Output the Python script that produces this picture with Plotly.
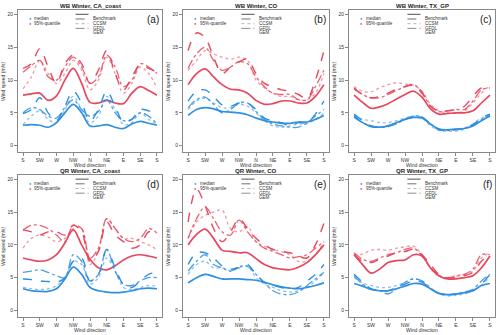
import plotly.graph_objects as go
from plotly.subplots import make_subplots

# wind direction sectors (every 22.5 deg, S -> S)
x_pos = [i * 0.5 for i in range(17)]
tick_pos = list(range(9))
tick_text = ['S', 'SW', 'W', 'NW', 'N', 'NE', 'E', 'SE', 'S']
models = ['Benchmark', 'CCSM', 'GFDL', 'GEM']

# (a) WB Winter, CA_coast
a_q95 = {
    'Benchmark': [7.7, 7.9, 8.0, 6.9, 7.6, 10.0, 11.8, 9.5, 6.6, 6.5, 6.9, 6.5, 6.4, 8.0, 9.0, 8.4, 7.7],
    'CCSM': [11.8, 12.5, 14.8, 12.0, 9.5, 12.5, 13.8, 12.5, 9.5, 11.5, 14.5, 11.0, 8.5, 10.5, 12.3, 11.8, 11.2],
    'GFDL': [8.7, 10.5, 13.0, 11.0, 9.5, 11.0, 13.0, 11.5, 8.5, 10.0, 13.5, 11.0, 8.0, 9.5, 12.0, 11.0, 8.8],
    'GEM': [11.2, 12.2, 13.0, 10.5, 10.0, 12.0, 13.5, 12.0, 9.5, 10.5, 13.8, 12.0, 9.0, 10.0, 12.5, 12.0, 11.0],
}
a_med = {
    'Benchmark': [3.1, 3.2, 3.1, 2.8, 3.5, 5.0, 6.3, 5.0, 3.0, 3.0, 3.2, 2.8, 2.6, 3.3, 3.7, 3.4, 3.1],
    'CCSM': [4.9, 5.5, 7.3, 5.0, 3.8, 6.0, 8.3, 6.5, 3.8, 5.5, 8.3, 6.0, 3.6, 4.0, 5.5, 5.3, 4.8],
    'GFDL': [3.2, 4.5, 5.3, 4.0, 3.5, 5.5, 7.5, 5.5, 3.5, 4.5, 7.5, 5.5, 3.2, 3.5, 5.0, 4.0, 3.2],
    'GEM': [5.0, 5.8, 5.5, 4.5, 4.2, 5.8, 7.0, 5.5, 4.5, 5.2, 7.0, 5.0, 3.8, 4.0, 5.0, 4.5, 3.3],
}
# (b) WB Winter, CO
b_q95 = {
    'Benchmark': [9.3, 11.0, 11.7, 10.5, 9.3, 8.6, 8.5, 8.0, 6.9, 6.3, 6.4, 6.8, 6.8, 6.5, 6.5, 7.5, 9.3],
    'CCSM': [14.5, 17.2, 16.5, 13.5, 11.0, 12.0, 12.8, 13.2, 11.0, 9.5, 9.0, 8.5, 8.3, 7.8, 7.2, 10.0, 14.5],
    'GFDL': [11.5, 13.0, 14.5, 14.0, 13.5, 13.2, 13.5, 13.0, 10.0, 8.8, 8.0, 7.5, 7.5, 7.0, 7.0, 8.0, 11.0],
    'GEM': [11.8, 14.0, 15.0, 13.0, 11.5, 12.0, 12.8, 12.5, 10.5, 9.0, 8.0, 7.8, 7.8, 7.0, 7.0, 9.0, 11.5],
}
b_med = {
    'Benchmark': [4.6, 5.5, 5.8, 5.6, 5.2, 5.1, 5.0, 4.7, 4.2, 3.8, 3.6, 3.4, 3.4, 3.6, 3.6, 4.0, 4.6],
    'CCSM': [6.8, 8.3, 8.5, 7.5, 6.2, 6.0, 6.5, 6.5, 5.5, 4.2, 3.8, 3.5, 3.0, 3.5, 3.5, 4.8, 6.8],
    'GFDL': [5.5, 6.8, 7.2, 6.5, 5.8, 5.8, 6.3, 6.0, 5.0, 3.8, 3.0, 2.8, 3.0, 3.3, 3.3, 4.0, 5.0],
    'GEM': [5.8, 7.0, 7.4, 6.3, 5.0, 5.5, 6.5, 6.5, 5.2, 4.0, 3.3, 3.0, 2.8, 2.8, 3.5, 4.5, 5.5],
}
# (c) WB Winter, TX_GP
c_q95 = {
    'Benchmark': [7.7, 6.6, 5.7, 5.9, 6.4, 7.1, 7.8, 8.3, 7.4, 5.6, 4.8, 4.9, 5.0, 5.0, 5.3, 6.5, 7.7],
    'CCSM': [8.8, 7.8, 7.3, 7.5, 8.0, 8.6, 9.0, 9.2, 8.0, 6.0, 5.3, 5.3, 5.5, 6.0, 7.5, 8.8, 9.0],
    'GFDL': [9.0, 8.3, 8.2, 8.8, 9.3, 9.6, 9.4, 9.2, 8.3, 6.3, 5.3, 5.0, 5.0, 5.3, 6.5, 8.0, 9.2],
    'GEM': [8.6, 7.8, 7.3, 7.3, 7.8, 8.4, 9.0, 9.3, 8.2, 6.0, 5.2, 5.3, 5.5, 5.5, 6.8, 8.5, 8.8],
}
c_med = {
    'Benchmark': [4.5, 3.5, 2.9, 2.8, 3.0, 3.5, 4.0, 4.3, 4.2, 3.3, 2.5, 2.4, 2.5, 2.6, 3.0, 3.8, 4.5],
    'CCSM': [4.8, 3.8, 3.0, 2.8, 3.0, 3.5, 4.0, 4.3, 4.3, 3.2, 2.5, 2.3, 2.4, 2.6, 3.2, 4.2, 4.8],
    'GFDL': [4.6, 4.0, 3.8, 3.5, 3.5, 3.8, 4.2, 4.5, 4.3, 3.0, 2.3, 2.2, 2.2, 2.5, 3.3, 4.2, 4.7],
    'GEM': [4.3, 3.5, 3.0, 2.8, 2.9, 3.3, 4.0, 4.5, 4.4, 3.3, 2.4, 2.3, 2.5, 2.7, 3.2, 4.0, 4.6],
}
# (d) QR Winter, CA_coast
d_q95 = {
    'Benchmark': [8.0, 7.7, 7.5, 7.7, 8.5, 10.3, 12.3, 10.0, 7.8, 6.5, 6.2, 6.8, 7.7, 8.3, 8.5, 8.3, 8.0],
    'CCSM': [12.3, 12.0, 11.5, 12.0, 12.0, 11.5, 13.0, 12.0, 7.5, 9.0, 13.5, 11.5, 10.5, 9.5, 10.0, 12.0, 12.0],
    'GFDL': [9.5, 11.0, 11.5, 11.2, 10.5, 11.0, 12.5, 12.5, 7.0, 9.0, 14.0, 12.5, 11.0, 11.0, 10.5, 10.0, 9.3],
    'GEM': [12.3, 13.0, 13.0, 12.5, 11.5, 10.5, 13.0, 12.5, 8.0, 9.5, 14.0, 12.5, 11.0, 10.5, 11.0, 12.5, 11.8],
}
d_med = {
    'Benchmark': [3.3, 3.0, 2.9, 2.9, 3.3, 4.8, 6.6, 5.5, 3.5, 3.0, 2.8, 2.7, 2.8, 3.0, 3.3, 3.4, 3.3],
    'CCSM': [4.8, 4.7, 4.5, 4.4, 4.3, 5.0, 7.5, 8.0, 4.5, 5.5, 9.3, 6.5, 4.0, 3.5, 4.5, 5.5, 5.8],
    'GFDL': [3.5, 3.3, 3.2, 3.3, 3.8, 5.0, 7.5, 7.0, 4.0, 5.0, 8.0, 6.0, 3.5, 3.2, 3.5, 3.8, 3.7],
    'GEM': [5.8, 6.0, 6.2, 5.8, 5.3, 5.0, 8.5, 7.5, 4.5, 5.5, 9.3, 6.0, 4.0, 3.8, 4.5, 5.0, 5.0],
}
# (e) QR Winter, CO
e_q95 = {
    'Benchmark': [10.0, 11.6, 12.4, 11.0, 9.2, 9.0, 8.8, 8.8, 7.9, 7.0, 6.5, 6.3, 6.2, 6.6, 7.3, 8.5, 10.0],
    'CCSM': [13.5, 18.5, 16.0, 12.5, 10.5, 12.0, 14.0, 12.5, 11.0, 10.0, 9.3, 9.0, 8.8, 8.3, 8.0, 10.0, 13.3],
    'GFDL': [11.0, 13.5, 14.5, 15.0, 15.3, 12.5, 12.0, 12.8, 10.5, 9.8, 9.3, 9.0, 8.5, 7.5, 7.5, 8.5, 10.5],
    'GEM': [11.0, 14.0, 15.8, 14.0, 12.0, 11.5, 13.8, 12.0, 10.5, 9.5, 9.0, 8.5, 8.0, 8.2, 8.5, 9.5, 10.5],
}
e_med = {
    'Benchmark': [4.2, 5.0, 5.5, 5.2, 4.8, 4.8, 4.8, 4.7, 4.6, 4.3, 3.9, 3.6, 3.4, 3.3, 3.5, 3.8, 4.2],
    'CCSM': [7.0, 8.8, 8.8, 8.0, 6.8, 6.3, 6.5, 7.0, 5.5, 4.3, 3.8, 3.5, 3.3, 3.5, 4.5, 5.5, 7.0],
    'GFDL': [5.5, 7.0, 7.5, 6.5, 6.5, 6.0, 6.5, 6.8, 5.0, 4.0, 3.5, 3.0, 2.8, 3.0, 3.5, 4.5, 5.8],
    'GEM': [6.0, 7.5, 8.5, 7.0, 6.5, 6.0, 6.7, 6.7, 5.5, 4.2, 3.0, 2.5, 2.4, 2.8, 3.8, 4.8, 5.8],
}
# (f) QR Winter, TX_GP
f_q95 = {
    'Benchmark': [8.5, 7.0, 5.7, 6.3, 7.3, 7.6, 7.7, 8.5, 8.3, 6.5, 5.3, 4.8, 4.8, 5.0, 5.3, 6.5, 8.3],
    'CCSM': [8.5, 7.5, 7.3, 7.8, 8.3, 8.8, 9.0, 9.3, 8.5, 7.0, 5.5, 5.0, 5.0, 5.3, 5.8, 7.5, 8.5],
    'GFDL': [8.5, 8.6, 9.2, 9.3, 9.2, 9.5, 9.7, 9.8, 8.5, 6.5, 5.2, 5.0, 5.3, 5.5, 6.0, 8.0, 8.8],
    'GEM': [8.8, 7.8, 7.5, 8.0, 8.5, 8.8, 9.3, 9.5, 8.3, 6.5, 5.3, 5.0, 5.2, 5.5, 6.3, 8.5, 8.5],
}
f_med = {
    'Benchmark': [4.1, 3.7, 3.2, 3.0, 3.0, 3.3, 3.7, 4.1, 4.0, 3.3, 2.6, 2.4, 2.5, 2.7, 3.0, 3.8, 4.1],
    'CCSM': [5.5, 4.3, 3.3, 3.0, 3.0, 3.5, 4.0, 4.5, 4.3, 3.3, 2.6, 2.4, 2.5, 2.7, 3.0, 4.0, 5.5],
    'GFDL': [5.0, 4.2, 3.8, 3.5, 3.5, 3.8, 4.3, 4.8, 4.5, 3.5, 2.5, 2.2, 2.3, 2.5, 3.0, 3.8, 5.2],
    'GEM': [5.3, 4.0, 3.3, 3.0, 2.5, 3.3, 4.3, 4.8, 4.5, 3.3, 2.6, 2.4, 2.5, 2.8, 3.2, 4.5, 5.5],
}

panels = [
    ('WB Winter, CA_coast', '(a)', a_med, a_q95),
    ('WB Winter, CO', '(b)', b_med, b_q95),
    ('WB Winter, TX_GP', '(c)', c_med, c_q95),
    ('QR Winter, CA_coast', '(d)', d_med, d_q95),
    ('QR Winter, CO', '(e)', e_med, e_q95),
    ('QR Winter, TX_GP', '(f)', f_med, f_q95),
]

BLUE = '#2F8FE0'
RED = '#E8475E'
styles = {
    'Benchmark': dict(dash='solid', width=1.7, opacity=1.0),
    'CCSM': dict(dash='dash', width=1.4, opacity=1.0),
    'GFDL': dict(dash='dot', width=1.3, opacity=0.55),
    'GEM': dict(dash='dashdot', width=1.3, opacity=0.85),
}

fig = make_subplots(rows=2, cols=3)

x_domains = [[0.036, 0.324], [0.366, 0.658], [0.698, 0.990]]
y_domains = [[0.546, 0.970], [0.054, 0.478]]
FONT = 'Liberation Sans, Arial, sans-serif'

for i, (title, tag, med, q95) in enumerate(panels):
    r, c = i // 3 + 1, i % 3 + 1
    for data, color in [(q95, RED), (med, BLUE)]:
        for m in models:
            st = styles[m]
            fig.add_trace(go.Scatter(
                x=x_pos, y=data[m], mode='lines',
                line=dict(color=color, width=st['width'], dash=st['dash'], shape='spline', smoothing=1.0),
                opacity=st['opacity'], showlegend=False, hoverinfo='skip'
            ), row=r, col=c)

    n = '' if i == 0 else str(i + 1)
    xa, ya = 'x' + n, 'y' + n
    fig.update_xaxes(domain=x_domains[c - 1], range=[-0.3, 8.3], tickvals=tick_pos, ticktext=tick_text,
                     row=r, col=c)
    fig.update_yaxes(domain=y_domains[r - 1], range=[-1.0, 20.7], tickvals=[0, 5, 10, 15, 20],
                     row=r, col=c)

    # titles and axis labels
    fig.add_annotation(text='<b>' + title + '</b>', xref=xa + ' domain', yref=ya + ' domain',
                       x=0.5, y=1.0, yanchor='bottom', showarrow=False, yshift=-1,
                       font=dict(size=6, color='#222'))
    fig.add_annotation(text='Wind direction', xref=xa + ' domain', yref=ya + ' domain',
                       x=0.5, y=0, yanchor='top', showarrow=False, yshift=-8,
                       font=dict(size=5, color='#333'))
    fig.add_annotation(text='Wind speed (m/s)', xref=xa + ' domain', yref=ya + ' domain',
                       x=0, y=0.5, textangle=-90, xanchor='right', showarrow=False, xshift=-10,
                       font=dict(size=5, color='#333'))
    fig.add_annotation(text=tag, xref=xa + ' domain', yref=ya + ' domain',
                       x=0.99, y=0.985, xanchor='right', yanchor='top', showarrow=False,
                       font=dict(size=10, color='#222'))

    # legend: quantities
    for k, (lab, col) in enumerate([('median', BLUE), ('95%-quantile', RED)]):
        yy = 0.97 - k * 0.033
        fig.add_annotation(text='\u25CF', xref=xa + ' domain', yref=ya + ' domain',
                           x=0.06, y=yy, showarrow=False, font=dict(size=4, color=col))
        fig.add_annotation(text=lab, xref=xa + ' domain', yref=ya + ' domain',
                           x=0.1, y=yy, xanchor='left', showarrow=False,
                           font=dict(size=4.5, color='#333'))
    # legend: models
    for k, m in enumerate(models):
        yy = 0.97 - k * 0.033
        st = styles[m]
        fig.add_shape(type='line', xref=xa + ' domain', yref=ya + ' domain',
                      x0=0.4, x1=0.49, y0=yy, y1=yy, opacity=st['opacity'],
                      line=dict(color='#555', width=st['width'] * 0.6, dash=st['dash']))
        fig.add_annotation(text=m, xref=xa + ' domain', yref=ya + ' domain',
                           x=0.51, y=yy, xanchor='left', showarrow=False,
                           font=dict(size=4.5, color='#333'))

fig.update_xaxes(showgrid=False, zeroline=False, showline=True, mirror=True, linecolor='#888',
                 linewidth=0.8, ticks='outside', ticklen=3, tickcolor='#888',
                 tickfont=dict(size=5, color='#333'))
fig.update_yaxes(showgrid=False, zeroline=False, showline=True, mirror=True, linecolor='#888',
                 linewidth=0.8, ticks='outside', ticklen=3, tickcolor='#888',
                 tickfont=dict(size=5, color='#333'))

fig.update_layout(
    width=500, height=335,
    margin=dict(l=0, r=0, t=0, b=0),
    paper_bgcolor='white', plot_bgcolor='white',
    font=dict(family=FONT),
    showlegend=False,
)

# remove the default page margin so the figure sits at the window's corner
fig.write_html("out.html", config={'displayModeBar': False},
               post_script="document.body.style.margin='0';")
